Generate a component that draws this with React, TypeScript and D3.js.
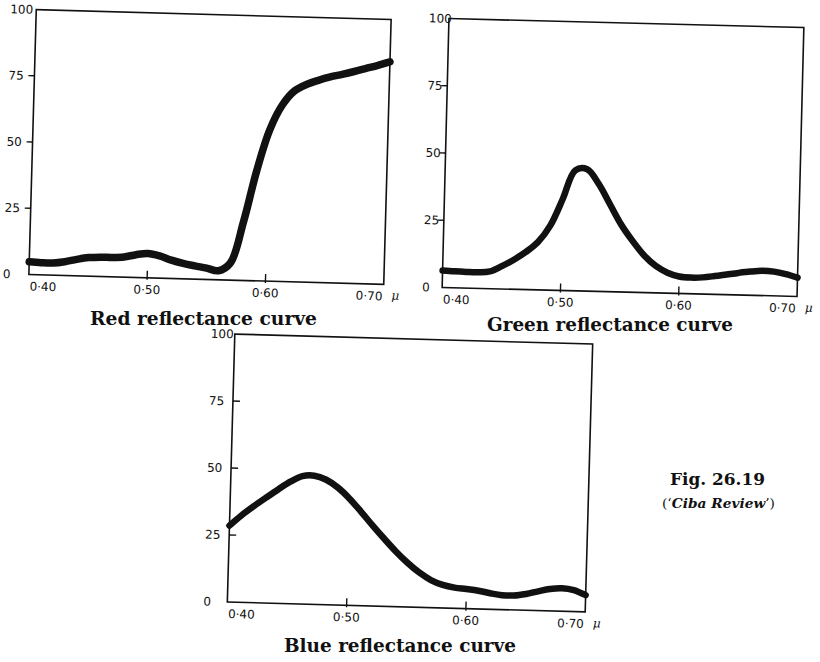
import React from "react";
import * as d3 from "d3";

// ---- data ----
const wavelengths = [
  0.40, 0.41, 0.42, 0.43, 0.44, 0.45, 0.46, 0.47, 0.48, 0.49, 0.50,
  0.51, 0.52, 0.53, 0.54, 0.55, 0.56, 0.57, 0.58, 0.59, 0.60,
  0.61, 0.62, 0.63, 0.64, 0.65, 0.66, 0.67, 0.68, 0.69, 0.70,
];
const redValues = [
  4.8, 4.6, 4.6, 5.2, 6.2, 7.0, 7.3, 7.3, 7.6, 8.6, 9.2,
  8.4, 6.9, 5.8, 5.0, 4.3, 3.4, 6.5, 22, 41.5, 57,
  66.5, 72, 74.6, 76.3, 77.7, 78.8, 80, 81.3, 82.6, 84,
];
const greenValues = [
  6.3, 6.1, 6.0, 6.0, 6.4, 8.5, 11, 14, 17.8, 24, 34,
  44.8, 45.3, 40, 32.5, 25, 19, 13.8, 10, 7.6, 6.3,
  6, 6.2, 6.8, 7.5, 8.2, 8.8, 9.2, 9.0, 8.2, 7,
];
const blueValues = [
  28.5, 32.5, 36, 39.3, 42.5, 45.5, 47.7, 48, 46.6, 43.8, 39.8,
  35, 30, 25.2, 20.6, 16.5, 13, 10.3, 8.6, 7.7, 7.3,
  6.8, 6.0, 5.4, 5.4, 6.1, 7.2, 8.2, 8.6, 8.0, 6.3,
];
const yTicks = [0, 25, 50, 75, 100];
const xTicks = [0.40, 0.50, 0.60, 0.70];
const xTickLabels = ["0·40", "0·50", "0·60", "0·70"];
const titles = ["Red reflectance curve", "Green reflectance curve", "Blue reflectance curve"];

type Panel = {
  values: number[];
  title: string;
  cx: number; cy: number; w: number; h: number; angle: number;
  lineW: number; yTickIn: boolean; yLabOff: number;
  tx: number; ty: number; tlen: number;
};

const panels: Panel[] = [
  { values: redValues, title: titles[0], cx: 210, cy: 147, w: 355, h: 265, angle: 1.6,
    lineW: 7.5, yTickIn: false, yLabOff: 26, tx: 90, ty: 325, tlen: 227 },
  { values: greenValues, title: titles[1], cx: 623, cy: 157.5, w: 355, h: 269, angle: 1.45,
    lineW: 6.5, yTickIn: false, yLabOff: 20, tx: 487, ty: 331, tlen: 246 },
  { values: blueValues, title: titles[2], cx: 410, cy: 473, w: 358, h: 268, angle: 1.6,
    lineW: 6.5, yTickIn: true, yLabOff: 24, tx: 284, ty: 652, tlen: 232 },
];

const ink = "#111";
const sans = "'DejaVu Sans', Arial, sans-serif";
const serif = "'DejaVu Serif', 'Liberation Serif', serif";

function PanelView({ p }: { p: Panel }) {
  const x0 = p.cx - p.w / 2, x1 = p.cx + p.w / 2;
  const y0 = p.cy - p.h / 2, y1 = p.cy + p.h / 2;
  const x = d3.scaleLinear().domain([0.40, 0.70]).range([x0, x1]);
  const y = d3.scaleLinear().domain([0, 100]).range([y1, y0]);
  const line = d3.line<number>()
    .x((_, i) => x(wavelengths[i]))
    .y((d) => y(d))
    .curve(d3.curveCatmullRom.alpha(0.5));
  return (
    <g>
      <g transform={`rotate(${p.angle} ${p.cx} ${p.cy})`}>
        <rect x={x0} y={y0} width={p.w} height={p.h} fill="none" stroke={ink} strokeWidth={1.6} />
        <path d={line(p.values) || ""} fill="none" stroke={ink} strokeWidth={p.lineW}
          strokeLinecap="round" strokeLinejoin="round" />
        {yTicks.map((t) => (
          <g key={t}>
            {t > 0 && t < 100 && (
              <line x1={p.yTickIn ? x0 : x0 - 6} x2={p.yTickIn ? x0 + 7 : x0}
                y1={y(t)} y2={y(t)} stroke={ink} strokeWidth={1.4} />
            )}
            <text x={x0 - p.yLabOff} y={y(t)} dy="0.36em" fontFamily={sans} fontSize={12}
              fill={ink}>{t}</text>
          </g>
        ))}
        {xTicks.map((t, i) => (
          <g key={t}>
            {i > 0 && i < xTicks.length - 1 && (
              <line x1={x(t)} x2={x(t)} y1={y1 - 7} y2={y1 + 2} stroke={ink} strokeWidth={1.4} />
            )}
            <text x={i === 0 ? x(t) + 1 : i === xTicks.length - 1 ? x(t) - 1 : x(t)} y={y1 + 16}
              textAnchor={i === 0 ? "start" : i === xTicks.length - 1 ? "end" : "middle"}
              fontFamily={sans} fontSize={12} fill={ink}>{xTickLabels[i]}</text>
          </g>
        ))}
        <text x={x1 + 8} y={y1 + 15} fontFamily={serif} fontStyle="italic" fontSize={12}
          fill={ink}>μ</text>
      </g>
      <text x={p.tx} y={p.ty} fontFamily={serif} fontWeight="bold" fontSize={19}
        textLength={p.tlen} lengthAdjust="spacingAndGlyphs" fill={ink}>{p.title}</text>
    </g>
  );
}

export default function App() {
  return (
    <svg width={820} height={662} style={{ position: "absolute", left: 0, top: 0, background: "#fff" }}>
      <rect width={820} height={662} fill="#fff" />
      {panels.map((p) => <PanelView key={p.title} p={p} />)}
      <text x={670} y={485} fontFamily={serif} fontWeight="bold" fontSize={17}
        textLength={95} lengthAdjust="spacingAndGlyphs" fill={ink}>Fig. 26.19</text>
      <text x={662} y={508} fontFamily={serif} fontSize={12.5} fill={ink}
        textLength={113} lengthAdjust="spacingAndGlyphs">
        (‘<tspan fontStyle="italic" fontWeight="bold">Ciba Review</tspan>’)
      </text>
    </svg>
  );
}
